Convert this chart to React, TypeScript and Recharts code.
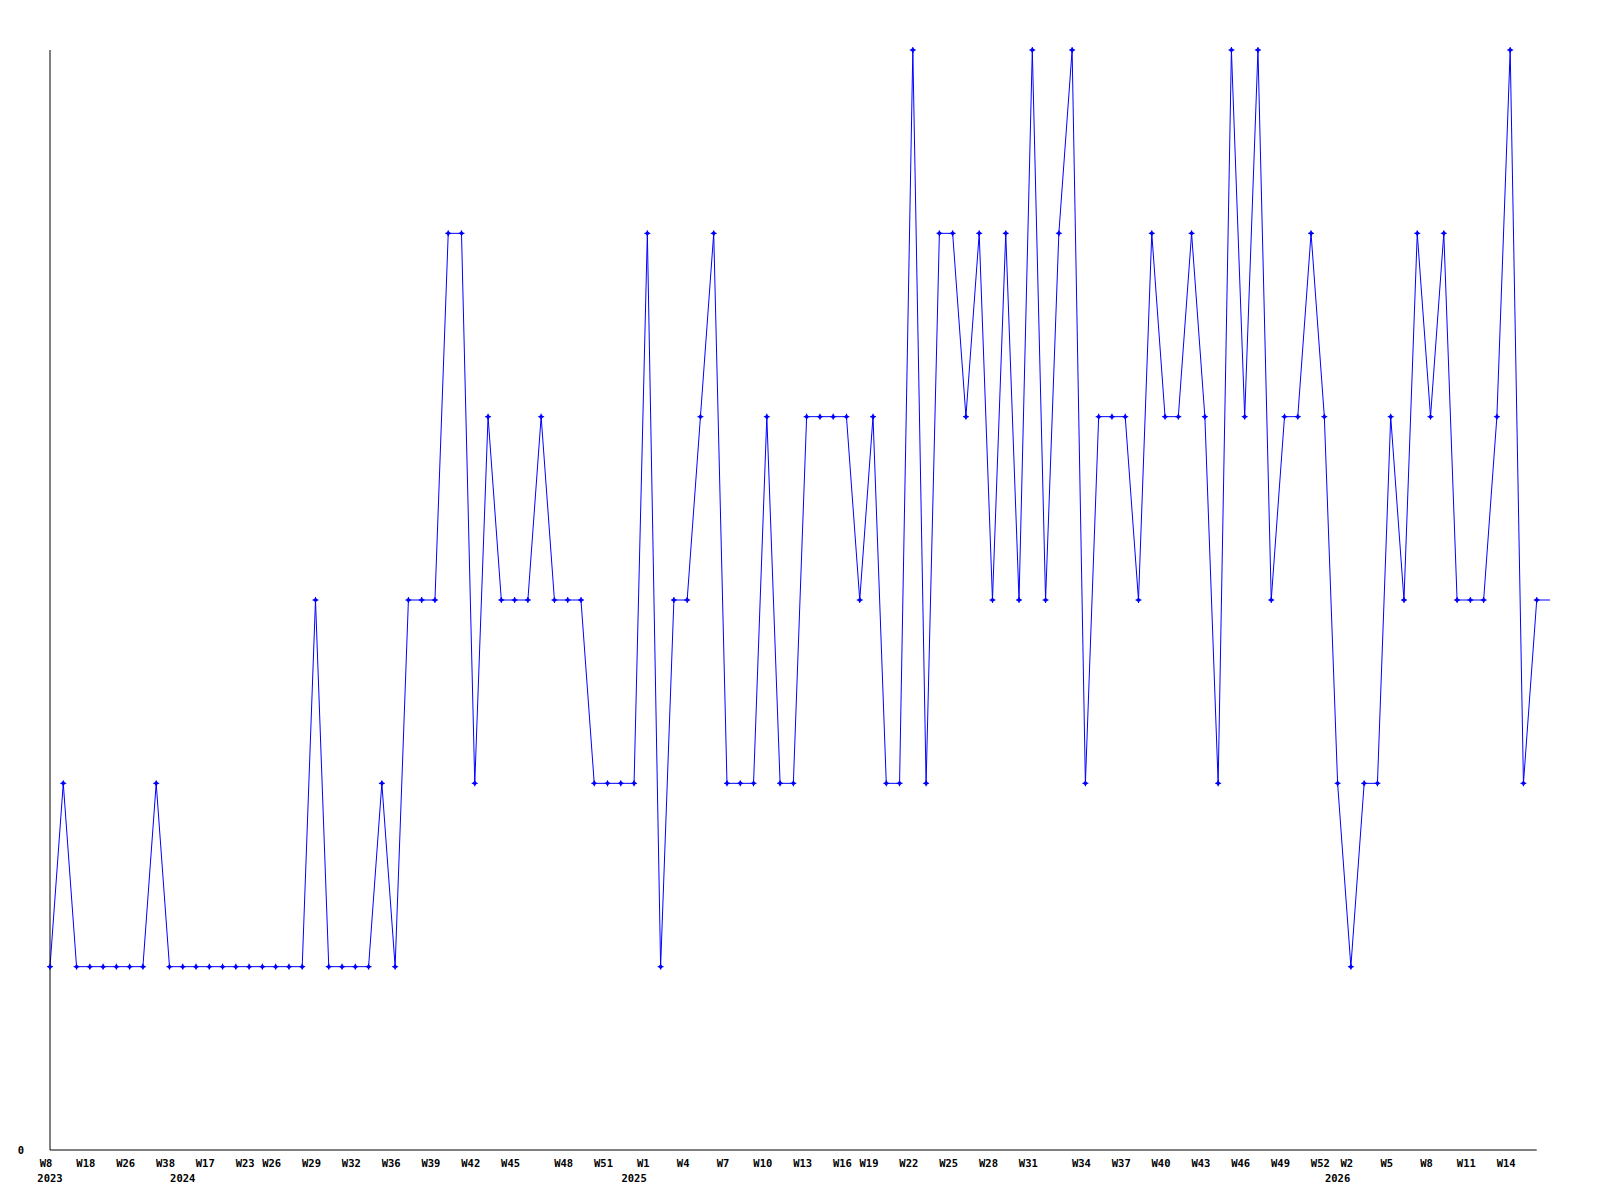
import React from "react";
import { LineChart, Line, XAxis, YAxis, ReferenceLine } from "recharts";

// weekly values, one per point, left to right
const VALUES = [
  1, 2, 1, 1, 1, 1, 1, 1, 2, 1,
  1, 1, 1, 1, 1, 1, 1, 1, 1, 1,
  3, 1, 1, 1, 1, 2, 1, 3, 3, 3,
  5, 5, 2, 4, 3, 3, 3, 4, 3, 3,
  3, 2, 2, 2, 2, 5, 1, 3, 3, 4,
  5, 2, 2, 2, 4, 2, 2, 4, 4, 4,
  4, 3, 4, 2, 2, 6, 2, 5, 5, 4,
  5, 3, 5, 3, 6, 3, 5, 6, 2, 4,
  4, 4, 3, 5, 4, 4, 5, 4, 2, 6,
  4, 6, 3, 4, 4, 5, 4, 2, 1, 2,
  2, 4, 3, 5, 4, 5, 3, 3, 3, 4,
  6, 2, 3, 3,
];

// which point carries which week label
const WEEK_LABELS: Record<number, string> = {
  0: "W8", 3: "W18", 6: "W26", 9: "W38", 12: "W17", 15: "W23",
  17: "W26", 20: "W29", 23: "W32", 26: "W36", 29: "W39", 32: "W42",
  35: "W45", 39: "W48", 42: "W51", 45: "W1", 48: "W4", 51: "W7",
  54: "W10", 57: "W13", 60: "W16", 62: "W19", 65: "W22", 68: "W25",
  71: "W28", 74: "W31", 78: "W34", 81: "W37", 84: "W40", 87: "W43",
  90: "W46", 93: "W49", 96: "W52", 98: "W2", 101: "W5", 104: "W8",
  107: "W11", 110: "W14",
};

// first point of each year
const YEAR_LABELS: Record<number, string> = {
  0: "2023",
  10: "2024",
  44: "2025",
  97: "2026",
};

const data = VALUES.map((v, i) => ({ i, v }));

const tickIndexes = Array.from(
  new Set([...Object.keys(WEEK_LABELS), ...Object.keys(YEAR_LABELS)].map(Number))
).sort((a, b) => a - b);

const FONT = "'DejaVu Sans Mono', monospace";

const WeekTick = (props: any) => {
  const { x, y, payload } = props;
  const week = WEEK_LABELS[payload.value];
  const year = YEAR_LABELS[payload.value];
  return (
    <g>
      {week && (
        <text x={x - 4} y={y + 16.5} textAnchor="middle" fontFamily={FONT} fontWeight="bold" fontSize={10.5} fill="#000">
          {week}
        </text>
      )}
      {year && (
        <text x={x} y={y + 31.5} textAnchor="middle" fontFamily={FONT} fontWeight="bold" fontSize={10.5} fill="#000">
          {year}
        </text>
      )}
    </g>
  );
};

const ValueTick = (props: any) => {
  const { x, y, payload } = props;
  return (
    <text x={x - 26} y={y + 4} textAnchor="end" fontFamily={FONT} fontWeight="bold" fontSize={10.5} fill="#000">
      {payload.value}
    </text>
  );
};

const Marker = (props: any) => {
  const { cx, cy, index } = props;
  if (index === VALUES.length - 1 || cx == null) return <g key={`m-${index}`} />;
  return (
    <g key={`m-${index}`}>
      <path d={`M${cx - 2.5},${cy} L${cx},${cy - 2.5} L${cx + 2.5},${cy} L${cx},${cy + 2.5} Z`} fill="#0000ff" />
      <path d={`M${cx - 3},${cy} H${cx + 3} M${cx},${cy - 3} V${cy + 3}`} stroke="#0000ff" strokeWidth={1} />
    </g>
  );
};

export default function App() {
  return (
    <div style={{ position: "absolute", left: 0, top: 0, width: 1600, height: 1200, background: "#fff" }}>
      <LineChart width={1600} height={1200} data={data} margin={{ top: 50, right: 50, bottom: 10, left: 0 }}>
        <XAxis
          dataKey="i"
          type="number"
          domain={[0, VALUES.length - 1]}
          ticks={tickIndexes}
          interval={0}
          tick={<WeekTick />}
          tickLine={false}
          axisLine={false}
          tickSize={0}
          tickMargin={0}
          height={40}
        />
        <YAxis
          domain={[0, 6]}
          ticks={[0]}
          tick={<ValueTick />}
          tickLine={false}
          tickSize={0}
          tickMargin={0}
          axisLine={{ stroke: "#000", strokeWidth: 1 }}
          width={50}
        />
        <ReferenceLine
          segment={[
            { x: 0, y: 0 },
            { x: VALUES.length - 2, y: 0 },
          ]}
          stroke="#000"
          strokeWidth={1}
        />
        <Line
          type="linear"
          dataKey="v"
          stroke="#0000ff"
          strokeWidth={1}
          dot={Marker}
          activeDot={false}
          isAnimationActive={false}
        />
      </LineChart>
    </div>
  );
}
